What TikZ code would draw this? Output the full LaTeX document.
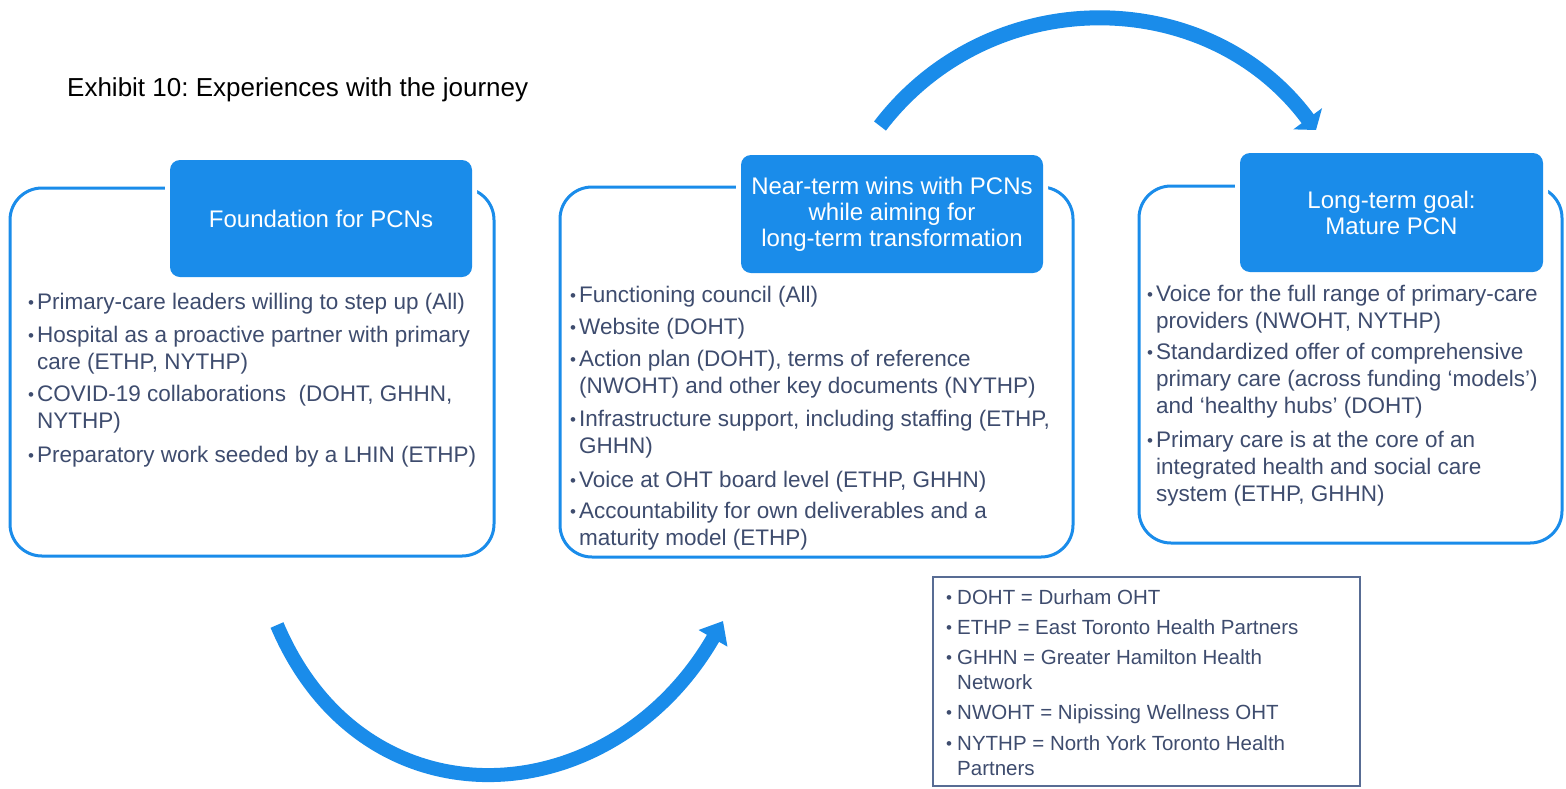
\documentclass[tikz,border=0pt]{standalone}
\usepackage{fontspec}
\setmainfont{Liberation Sans}
\usetikzlibrary{arrows.meta}
\frenchspacing
\definecolor{pcnblue}{RGB}{26,140,234}
\definecolor{bodytxt}{RGB}{62,76,110}
\definecolor{legborder}{RGB}{88,108,148}
\newcommand{\pcnbul}[1]{\makebox[#1][l]{\raisebox{0.5pt}{\fontsize{17}{17}\selectfont •}}}
\newcommand{\pcnitem}[1]{\pcnbul{9pt}\begin{tabular}[t]{@{}l@{}}#1\end{tabular}}
\newcommand{\legitem}[1]{\pcnbul{11pt}\begin{tabular}[t]{@{}l@{}}#1\end{tabular}}
\tikzset{
  obox/.style={draw=pcnblue, line width=3pt, rounded corners=32pt, inner sep=0pt, outer sep=0pt},
  hbox/.style={fill=pcnblue, rounded corners=10pt, text=white, align=center, inner sep=0pt, outer sep=0pt,
    font=\fontsize{24}{26}\selectfont, preaction={draw=white, line width=10pt}},
  itemtxt/.style={anchor=base west, inner sep=0pt, text=bodytxt, font=\fontsize{22.5}{27}\selectfont},
  legtxt/.style={anchor=base west, inner sep=0pt, text=bodytxt, font=\fontsize{20.5}{25}\selectfont},
  legbox/.style={draw=legborder, line width=1.5pt, inner sep=0pt},
  flowtop/.style={draw=pcnblue, line width=15pt, -{Triangle[width=35pt,length=14pt]}},
  flowbot/.style={draw=pcnblue, line width=14pt, -{Triangle[width=32pt,length=20pt]}}
}
\begin{document}
\begin{tikzpicture}[x=1pt,y=-1pt]
\useasboundingbox[fill=white] (0,0) rectangle (1566,788);

\node[anchor=west, inner sep=0pt, font=\fontsize{26}{30}\selectfont] (title) at (67,90) {Exhibit 10: Experiences with the journey};

% outer boxes
\node[obox, minimum width=484pt, minimum height=368pt] (o1) at (252,372) {};
\node[obox, minimum width=513pt, minimum height=370pt] (o2) at (816.5,372) {};
\node[obox, minimum width=423pt, minimum height=357pt] (o3) at (1350.5,364.5) {};

% headers
\node[hbox, minimum width=302pt, minimum height=117pt] (h1) at (321,218.5) {Foundation for PCNs};
\node[hbox, minimum width=302pt, minimum height=118pt] (h2) at (892,214) {Near-term wins with PCNs\\while aiming for\\long-term transformation};
\node[hbox, minimum width=303pt, minimum height=119pt] (h3) at (1391.5,212.5) {Long-term goal:\\Mature PCN};

% box 1 items
\node[itemtxt] (i11) at (28,309) {\pcnitem{Primary-care leaders willing to step up (All)}};
\node[itemtxt] (i12) at (28,342) {\pcnitem{Hospital as a proactive partner with primary\\care (ETHP, NYTHP)}};
\node[itemtxt] (i13) at (28,401) {\pcnitem{COVID-19 collaborations\ \ (DOHT, GHHN,\\NYTHP)}};
\node[itemtxt] (i14) at (28,462) {\pcnitem{Preparatory work seeded by a LHIN (ETHP)}};

% box 2 items
\node[itemtxt] (i21) at (570,302) {\pcnitem{Functioning council (All)}};
\node[itemtxt] (i22) at (570,334) {\pcnitem{Website (DOHT)}};
\node[itemtxt] (i23) at (570,366) {\pcnitem{Action plan (DOHT), terms of reference\\(NWOHT) and other key documents (NYTHP)}};
\node[itemtxt] (i24) at (570,426) {\pcnitem{Infrastructure support, including staffing (ETHP,\\GHHN)}};
\node[itemtxt] (i25) at (570,487) {\pcnitem{Voice at OHT board level (ETHP, GHHN)}};
\node[itemtxt] (i26) at (570,518) {\pcnitem{Accountability for own deliverables and a\\maturity model (ETHP)}};

% box 3 items
\node[itemtxt] (i31) at (1147,301) {\pcnitem{Voice for the full range of primary-care\\providers (NWOHT, NYTHP)}};
\node[itemtxt] (i32) at (1147,359) {\pcnitem{Standardized offer of comprehensive\\primary care (across funding ‘models’)\\and ‘healthy hubs’ (DOHT)}};
\node[itemtxt] (i33) at (1147,447) {\pcnitem{Primary care is at the core of an\\integrated health and social care\\system (ETHP, GHHN)}};

% legend
\node[legbox, minimum width=427pt, minimum height=209pt] (lg) at (1146.5,681.5) {};
\node[legtxt] (l1) at (946,604) {\legitem{DOHT = Durham OHT}};
\node[legtxt] (l2) at (946,634) {\legitem{ETHP = East Toronto Health Partners}};
\node[legtxt] (l3) at (946,664) {\legitem{GHHN = Greater Hamilton Health\\Network}};
\node[legtxt] (l4) at (946,719) {\legitem{NWOHT = Nipissing Wellness OHT}};
\node[legtxt] (l5) at (946,750) {\legitem{NYTHP = North York Toronto Health\\Partners}};

% arrows
\coordinate (ats) at (880,126);
\coordinate (ate) at (1316,130);
\draw[flowtop] (ats) .. controls (990.2,-18.3) and (1208,-16) .. (ate);
\coordinate (abs) at (277,625);
\coordinate (abe) at (723,621);
\draw[flowbot] (abs) .. controls (364.4,831.1) and (611,815) .. (abe);
\end{tikzpicture}
\end{document}
